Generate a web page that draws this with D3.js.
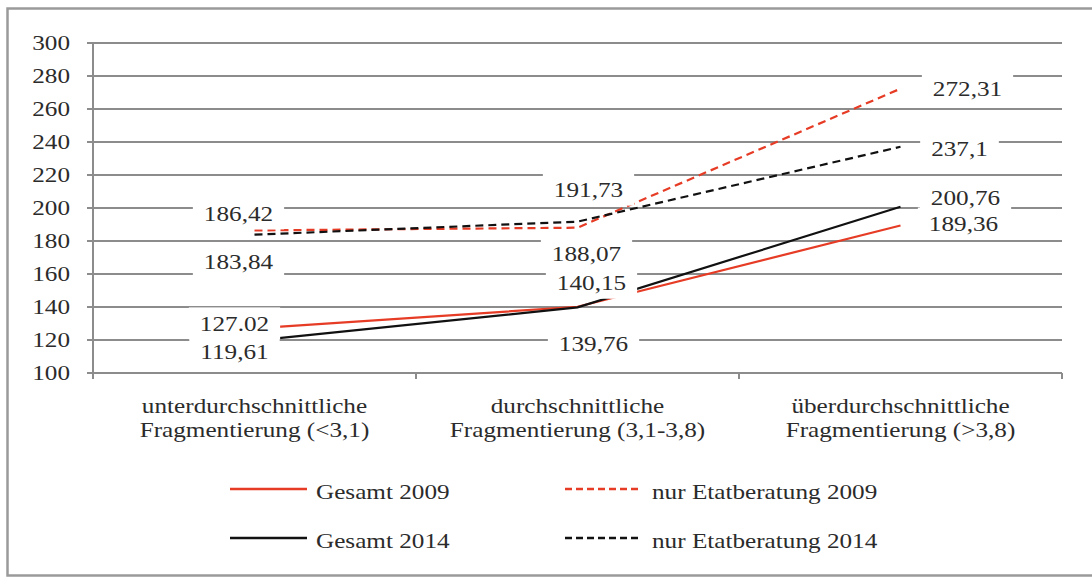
<!DOCTYPE html>
<html>
<head>
<meta charset="utf-8">
<script src="https://cdn.jsdelivr.net/npm/d3@7"></script>
<style>
  body { margin: 0; background: #fff; }
  svg text { font-family: "Liberation Serif", "Times New Roman", serif; fill: #2b2b2b; }
</style>
</head>
<body>
<svg id="chart" width="1092" height="577"></svg>
<script>
// categories (two lines each)
const categories = [
  ['unterdurchschnittliche', 'Fragmentierung (<3,1)'],
  ['durchschnittliche', 'Fragmentierung (3,1-3,8)'],
  ['überdurchschnittliche', 'Fragmentierung (>3,8)']
];
const yTicks = [100, 120, 140, 160, 180, 200, 220, 240, 260, 280, 300];

// series values
const gesamt2009 = [127.02, 140.15, 189.36];
const gesamt2014 = [119.61, 139.76, 200.76];
const etat2009 = [186.42, 188.07, 272.31];
const etat2014 = [183.84, 191.73, 237.1];

// data label texts as printed
const gesamt2009Labels = ['127.02', '140,15', '189,36'];
const gesamt2014Labels = ['119,61', '139,76', '200,76'];
const etat2009Labels = ['186,42', '188,07', '272,31'];
const etat2014Labels = ['183,84', '191,73', '237,1'];

const series = [
  { name: 'Gesamt 2009', values: gesamt2009, labels: gesamt2009Labels, color: '#e63b25', dash: null,
    off: [[-20, -5], [14, -24], [63, -2]] },
  { name: 'Gesamt 2014', values: gesamt2014, labels: gesamt2014Labels, color: '#111', dash: null,
    off: [[-20, 11], [16, 36], [65, -9]] },
  { name: 'nur Etatberatung 2009', values: etat2009, labels: etat2009Labels, color: '#e63b25', dash: '8,5',
    off: [[-16, -17], [9, 26], [67, 0]] },
  { name: 'nur Etatberatung 2014', values: etat2014, labels: etat2014Labels, color: '#111', dash: '8,5',
    off: [[-16, 27], [11, -32], [59, 2]] }
];

const svg = d3.select('#chart');
const grid = '#8c8c8c';
const sx = 1.2; // text is stretched horizontally in the original

// frame
svg.append('rect')
  .attr('x', 7.5).attr('y', 8.5)
  .attr('width', 1092).attr('height', 567)
  .attr('fill', 'none').attr('stroke', '#9a9a9a').attr('stroke-width', 2.5);

const xScale = d3.scaleBand().domain(d3.range(categories.length)).range([93, 1062]);
const yScale = d3.scaleLinear().domain([100, 300]).range([373, 43]);
const cx = (i) => xScale(i) + xScale.bandwidth() / 2;

function stretched(sel, x, y) {
  return sel.attr('transform', `translate(${x},${y}) scale(${sx},1)`);
}

// gridlines
svg.append('g').selectAll('line')
  .data(yTicks)
  .join('line')
  .attr('x1', 87).attr('x2', 1062)
  .attr('y1', (d) => yScale(d)).attr('y2', (d) => yScale(d))
  .attr('stroke', grid).attr('stroke-width', 2);

// y axis line
svg.append('line')
  .attr('x1', 93).attr('x2', 93)
  .attr('y1', yScale(300)).attr('y2', yScale(100) + 6)
  .attr('stroke', grid).attr('stroke-width', 2);

// category ticks
svg.append('g').selectAll('line')
  .data(d3.range(1, categories.length + 1))
  .join('line')
  .attr('x1', (d) => xScale(0) + d * xScale.bandwidth())
  .attr('x2', (d) => xScale(0) + d * xScale.bandwidth())
  .attr('y1', yScale(100)).attr('y2', yScale(100) + 6)
  .attr('stroke', grid).attr('stroke-width', 2);

// y tick labels
svg.append('g').selectAll('text')
  .data(yTicks)
  .join('text')
  .each(function (d) { stretched(d3.select(this), 70, yScale(d)); })
  .attr('text-anchor', 'end')
  .attr('dy', '0.35em')
  .attr('font-size', 21)
  .text((d) => d);

// category labels
const catG = svg.append('g').selectAll('text')
  .data(categories)
  .join('text')
  .each(function (d, i) { stretched(d3.select(this), cx(i), 413); })
  .attr('text-anchor', 'middle')
  .attr('font-size', 21);
catG.selectAll('tspan')
  .data((d) => d)
  .join('tspan')
  .attr('x', 0)
  .attr('dy', (d, i) => (i === 0 ? 0 : 24))
  .text((d) => d);

// lines
const line = d3.line()
  .x((d, i) => cx(i))
  .y((d) => yScale(d));

svg.append('g').selectAll('path')
  .data(series)
  .join('path')
  .attr('d', (d) => line(d.values))
  .attr('fill', 'none')
  .attr('stroke', (d) => d.color)
  .attr('stroke-width', 2.2)
  .attr('stroke-dasharray', (d) => d.dash);

// data labels with white boxes
const labelData = [];
series.forEach((s) => {
  s.values.forEach((v, i) => {
    labelData.push({ text: s.labels[i], x: cx(i) + s.off[i][0], y: yScale(v) + s.off[i][1] });
  });
});

const lab = svg.append('g').selectAll('g')
  .data(labelData)
  .join('g')
  .attr('transform', (d) => `translate(${d.x},${d.y})`);

lab.append('rect').attr('fill', '#fff');
lab.append('text')
  .attr('text-anchor', 'middle')
  .attr('dy', '0.35em')
  .attr('font-size', 21)
  .attr('transform', `scale(${sx},1)`)
  .text((d) => d.text);

lab.each(function () {
  const g = d3.select(this);
  const w = g.select('text').node().getComputedTextLength() * sx + 22;
  g.select('rect').attr('x', -w / 2).attr('y', -16).attr('width', w).attr('height', 32);
});

// legend
const legendPos = [
  { x: 230, y: 489 },
  { x: 230, y: 538 },
  { x: 565, y: 489 },
  { x: 565, y: 538 }
];
const leg = svg.append('g').selectAll('g')
  .data(series)
  .join('g')
  .attr('transform', (d, i) => `translate(${legendPos[i].x},${legendPos[i].y})`);

leg.append('line')
  .attr('x1', 0).attr('x2', 77)
  .attr('stroke', (d) => d.color)
  .attr('stroke-width', 2.5)
  .attr('stroke-dasharray', (d) => (d.dash ? '7,4' : null));

leg.append('text')
  .attr('transform', (d) => `translate(${d.dash ? 87 : 86},3) scale(${sx},1)`)
  .attr('dy', '0.35em')
  .attr('font-size', 21)
  .text((d) => d.name);
</script>
</body>
</html>
